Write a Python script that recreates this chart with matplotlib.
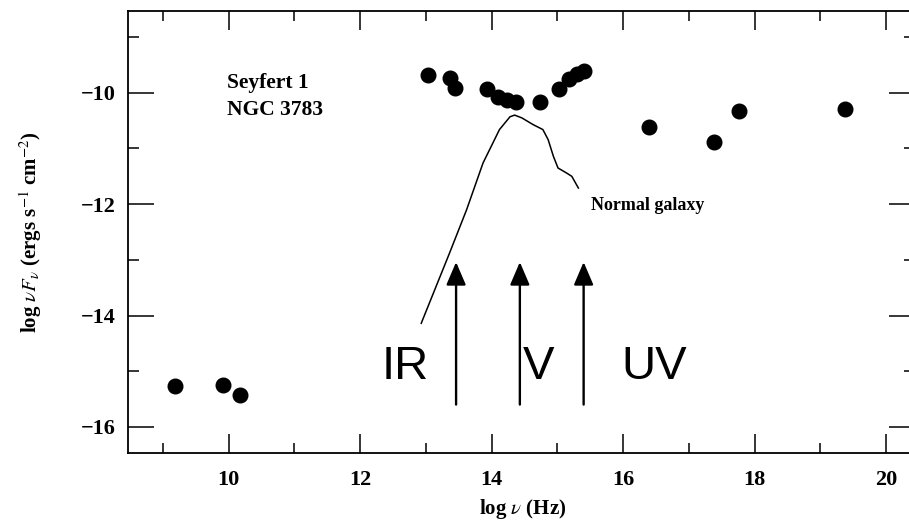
import matplotlib
matplotlib.use("Agg")
import matplotlib.pyplot as plt
from matplotlib.ticker import MultipleLocator

# Seyfert 1 NGC 3783 spectral energy distribution (log nu, log nuF_nu)
radio_lognu = [9.18, 9.91, 10.17]
radio_lognufnu = [-15.26, -15.24, -15.42]

opt_lognu = [13.03, 13.37, 13.45, 13.93, 14.10, 14.24, 14.37, 14.74,
             15.03, 15.17, 15.30, 15.40]
opt_lognufnu = [-9.68, -9.73, -9.91, -9.93, -10.07, -10.13, -10.16, -10.16,
                -9.93, -9.75, -9.66, -9.61]

xray_lognu = [16.39, 17.38, 17.77, 19.37]
xray_lognufnu = [-10.61, -10.88, -10.32, -10.29]

# Template SED of a normal galaxy
gal_lognu = [12.93, 13.36, 13.62, 13.87, 14.12, 14.28, 14.35, 14.46, 14.63,
             14.78, 14.86, 14.94, 15.01, 15.14, 15.22, 15.32]
gal_lognufnu = [-14.14, -12.88, -12.10, -11.26, -10.66, -10.43, -10.40,
                -10.45, -10.57, -10.66, -10.84, -11.14, -11.35, -11.44,
                -11.50, -11.71]

# Band markers (IR, V, UV)
band_names = ["IR", "V", "UV"]
band_lognu = [13.46, 14.43, 15.40]

xticks = [10, 12, 14, 16, 18, 20]
yticks = [-16, -14, -12, -10]

serif = ["Liberation Serif", "DejaVu Serif"]
plt.rcParams["mathtext.fontset"] = "stix"

fig = plt.figure(figsize=(9.09, 5.23), dpi=100)
ax = fig.add_axes([128 / 909, (523 - 453) / 523, 787 / 909, 442 / 523])

all_x = radio_lognu + opt_lognu + xray_lognu
all_y = radio_lognufnu + opt_lognufnu + xray_lognufnu
ax.plot(all_x, all_y, "o", color="black", markersize=10.5, zorder=3)

ax.plot(gal_lognu, gal_lognufnu, "-", color="black", lw=1.1)
ax.text(15.51, -12.10, "Normal galaxy", family=serif, fontweight="bold",
        fontsize=13, va="baseline", ha="left")

ax.text(9.98, -9.91, "Seyfert 1", family=serif, fontweight="bold",
        fontsize=15.5, va="baseline", ha="left")
ax.text(9.98, -10.40, "NGC 3783", family=serif, fontweight="bold",
        fontsize=15.5, va="baseline", ha="left")

# Arrows marking the IR, V and UV bands
for x in band_lognu:
    ax.annotate("", xy=(x, -13.04), xytext=(x, -15.6),
                arrowprops=dict(arrowstyle="-|>,head_length=1.4,head_width=0.6",
                                color="black", lw=1.7, shrinkA=0, shrinkB=0))

label_x = [12.33, 14.47, 15.98]
for name, lx in zip(band_names, label_x):
    ax.text(lx, -15.14, name, family=["Liberation Sans", "DejaVu Sans"],
            fontsize=34, va="baseline", ha="left")

ax.set_xlim(8.47, 20.44)
ax.set_ylim(-16.47, -8.53)
ax.set_xticks(xticks)
ax.set_yticks(yticks)
ax.xaxis.set_minor_locator(MultipleLocator(1))
ax.yaxis.set_minor_locator(MultipleLocator(1))
ax.set_xticklabels([str(t) for t in xticks])
ax.set_yticklabels(["\u2212%d" % abs(t) for t in yticks])

ax.tick_params(axis="both", which="both", direction="in", top=True, right=True,
               width=1.1, color="black")
ax.tick_params(axis="y", which="major", length=19, pad=9)
ax.tick_params(axis="y", which="minor", length=8)
ax.tick_params(axis="x", which="major", length=14, pad=12)
ax.tick_params(axis="x", which="minor", length=7)
for lab in ax.get_xticklabels() + ax.get_yticklabels():
    lab.set_family(serif)
    lab.set_fontweight("bold")
    lab.set_fontsize(16)

for sp in ax.spines.values():
    sp.set_linewidth(1.3)

ax.set_xlabel(r"log $\nu$ (Hz)", family=serif, fontweight="bold", fontsize=15)
ax.set_ylabel(r"log $\nu F_\nu$ (ergs s$^{-1}$ cm$^{-2}$)", family=serif,
              fontweight="bold", fontsize=15)
ax.xaxis.set_label_coords(0.501, -0.100)
ax.yaxis.set_label_coords(-0.107, 0.5)

fig.savefig("out.png", dpi=100)
